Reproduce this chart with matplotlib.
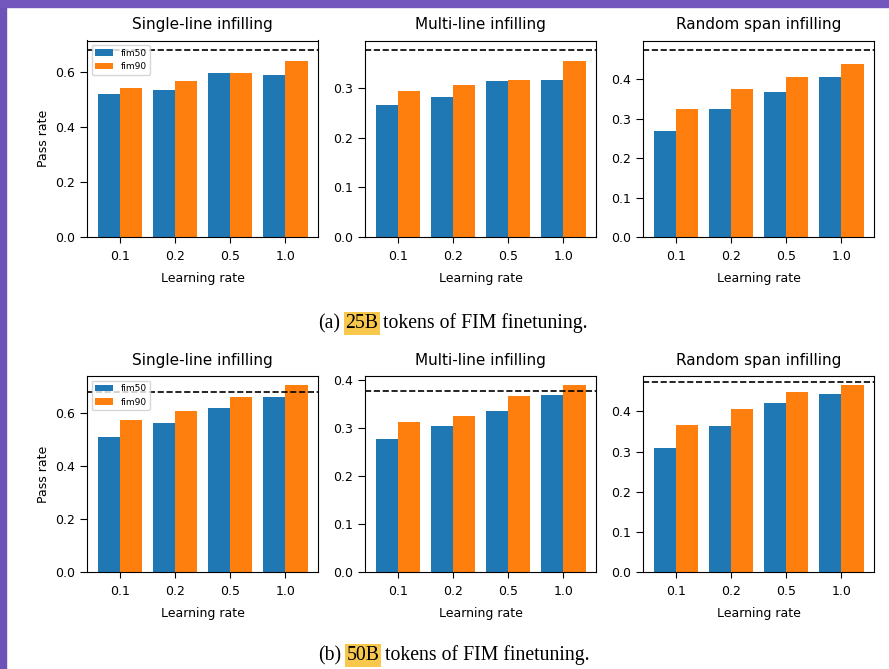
import matplotlib
matplotlib.use("Agg")
import matplotlib.pyplot as plt
import numpy as np
from matplotlib.patches import Rectangle

lrs = ["0.1", "0.2", "0.5", "1.0"]
titles = ["Single-line infilling", "Multi-line infilling", "Random span infilling"]

# (a) 25B tokens
fim50_25b = [[0.520, 0.535, 0.598, 0.590],
             [0.266, 0.282, 0.315, 0.317],
             [0.268, 0.325, 0.368, 0.405]]
fim90_25b = [[0.544, 0.567, 0.599, 0.640],
             [0.295, 0.308, 0.318, 0.356],
             [0.324, 0.376, 0.406, 0.439]]
# (b) 50B tokens
fim50_50b = [[0.511, 0.564, 0.619, 0.662],
             [0.277, 0.305, 0.336, 0.368],
             [0.309, 0.363, 0.420, 0.443]]
fim90_50b = [[0.574, 0.608, 0.663, 0.706],
             [0.313, 0.326, 0.367, 0.389],
             [0.367, 0.406, 0.448, 0.465]]
# dashed reference lines
baseline = [0.682, 0.378, 0.474]

plt.rcParams['font.family'] = ['DejaVu Sans']

W, H = 889, 669
fig = plt.figure(figsize=(W / 100, H / 100), dpi=100)
fig.patch.set_facecolor('white')

# purple screenshot frame
fig.patches.append(Rectangle((0, 0), 6 / W, 1, transform=fig.transFigure,
                             color='#6b53b8', zorder=0))
fig.patches.append(Rectangle((0, 1 - 6.5 / H), 1, 6.5 / H, transform=fig.transFigure,
                             color='#7457bd', zorder=0))

lefts = [87, 365, 643]
aw = 231
rows = [(40.5, 237, fim50_25b, fim90_25b), (376, 572, fim50_50b, fim90_50b)]

x = np.arange(len(lrs))
w = 0.4
for top, bot, f50, f90 in rows:
    for j in range(3):
        ax = fig.add_axes([lefts[j] / W, 1 - bot / H, aw / W, (bot - top) / H])
        ax.bar(x - w / 2, f50[j], w, color='#1f77b4', label='fim50')
        ax.bar(x + w / 2, f90[j], w, color='#ff7f0e', label='fim90')
        ax.axhline(baseline[j], color='black', linestyle='--', linewidth=1.2)
        ax.set_xticks(x)
        ax.set_xticklabels(lrs)
        ax.set_title(titles[j], fontsize=11, pad=8)
        ax.set_xlabel('Learning rate', fontsize=9, labelpad=6)
        ax.tick_params(labelsize=9)
        ax.tick_params(axis='y', length=5)
        ax.tick_params(axis='x', length=4.5, pad=5)
        if j == 0:
            ax.set_ylabel('Pass rate', fontsize=9)
            ax.legend(loc='upper left', fontsize=6.5)

hl = dict(boxstyle='square,pad=0.08', fc='#f8c84c', ec='none')
cap = dict(family='Liberation Serif', fontsize=14.2, va='bottom', ha='left')
for label, key, ypix in [("(a)", "25B", 333), ("(b)", "50B", 665)]:
    t1 = fig.text(318 / W, 1 - ypix / H, label, **cap)
    t2 = fig.add_artist(plt.Annotation(key, xy=(1, 0), xycoords=t1,
                                       xytext=(4, 0), textcoords='offset points',
                                       bbox=hl, **cap))
    fig.add_artist(plt.Annotation("tokens of FIM finetuning.", xy=(1, 0), xycoords=t2,
                                  xytext=(3.5, 0), textcoords='offset points', **cap))

fig.savefig('out.png', dpi=100)
